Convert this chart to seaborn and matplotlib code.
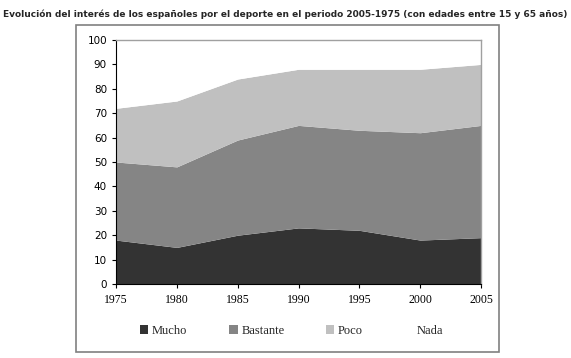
import matplotlib
matplotlib.use('Agg')
import matplotlib.pyplot as plt
import matplotlib.patches as mpatches
import seaborn as sns
import pandas as pd

years = [1975, 1980, 1985, 1990, 1995, 2000, 2005]
mucho = [18, 15, 20, 23, 22, 18, 19]
bastante = [32, 33, 39, 42, 41, 44, 46]
poco = [22, 27, 25, 23, 25, 26, 25]
nada = [28, 25, 16, 12, 12, 12, 10]
labels = ["Mucho", "Bastante", "Poco", "Nada"]
colors = ["#333333", "#858585", "#c0c0c0", "#ffffff"]

df = pd.DataFrame({"Año": years, "Mucho": mucho, "Bastante": bastante,
                   "Poco": poco, "Nada": nada})

sns.set_style("white")
plt.rcParams['font.family'] = ['Liberation Serif', 'DejaVu Serif']

fig = plt.figure(figsize=(5.71, 3.58), dpi=100)
W, H = 571, 358

# outer chart frame
fig.patches.append(mpatches.Rectangle((76 / W, 1 - 352 / H), (499 - 76) / W, (352 - 25) / H,
                                      transform=fig.transFigure, fill=False,
                                      edgecolor="#808080", linewidth=1.2))

ax = fig.add_axes([116 / W, 1 - 284 / H, (481 - 116) / W, (284 - 40) / H])
ax.stackplot(df["Año"], [df[c] for c in labels], colors=colors, labels=labels,
             linewidth=0)

ax.set_xlim(1975, 2005)
ax.set_ylim(0, 100)
ax.set_xticks(years)
ax.set_yticks(range(0, 101, 10))
ax.tick_params(axis="both", length=3, width=0.8, colors="black",
               direction="out", left=True, bottom=True)
ax.tick_params(axis="x", pad=4, labelsize=8.5)
ax.tick_params(axis="y", labelsize=7.5)
for lab in ax.get_yticklabels():
    lab.set_family(["DejaVu Sans"])
for side in ["top", "right"]:
    ax.spines[side].set_color("#a0a0a0")
    ax.spines[side].set_linewidth(1)
ax.spines["left"].set_color("black")
ax.spines["bottom"].set_color("black")
ax.spines["left"].set_linewidth(0.8)
ax.spines["bottom"].set_linewidth(0.8)

handles = [mpatches.Patch(facecolor=c, edgecolor="none") for c in colors]
fig.legend(handles, labels, loc="center", bbox_to_anchor=(0.5 + 6 / W, 1 - 331 / H),
           ncol=4, frameon=False, fontsize=9, columnspacing=3.3,
           handlelength=0.7, handleheight=0.7, handletextpad=0.3)

fig.text(0.5, 1 - 14 / H,
         "Evolución del interés de los españoles por el deporte en el periodo 2005-1975 (con edades entre 15 y 65 años)",
         ha="center", va="center", fontsize=6.5, fontweight="bold",
         family=["DejaVu Sans"])

fig.savefig("out.png", dpi=100)
